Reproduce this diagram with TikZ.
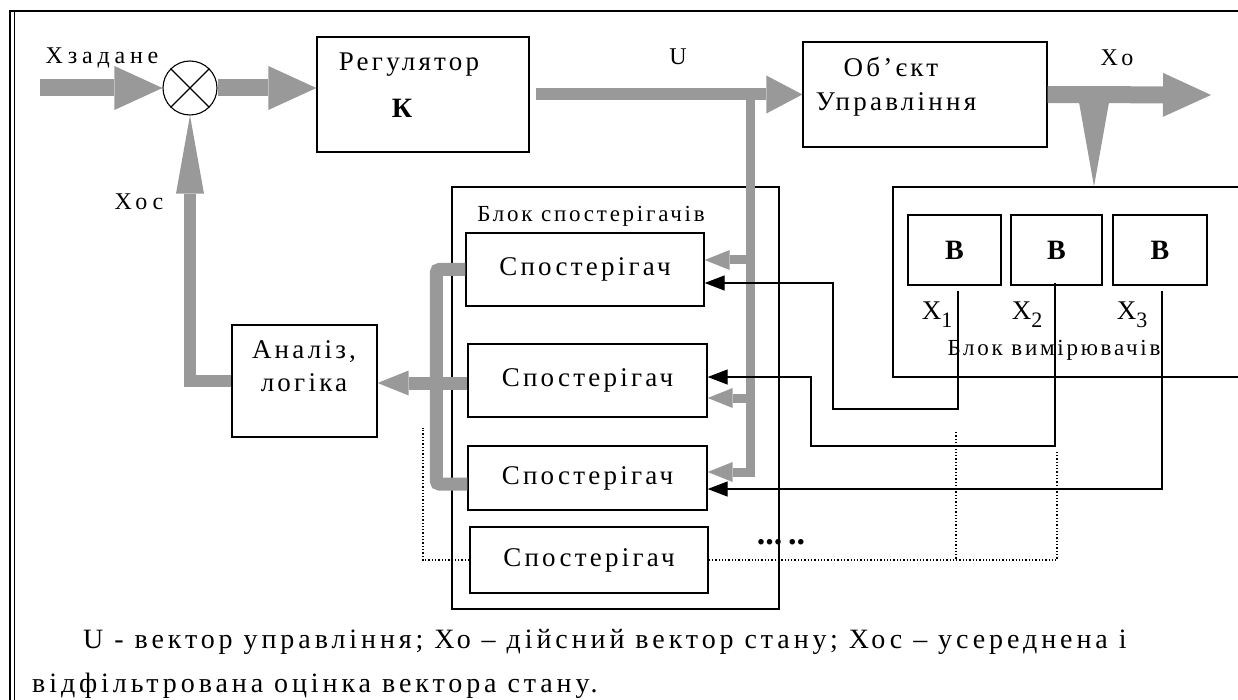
\documentclass[tikz,border=0pt]{standalone}
\usepackage{fontspec}
\setmainfont{Liberation Serif}
\newfontfamily\lblfont{Liberation Serif}[LetterSpace=20]
\newfontfamily\boxfont{Liberation Serif}[LetterSpace=12]
\newfontfamily\capfont{Liberation Serif}[LetterSpace=14]
\usetikzlibrary{positioning,arrows.meta}
\definecolor{bargray}{RGB}{153,153,153}

\begin{document}
\begin{tikzpicture}[
      x=1pt, y=-1pt,
      blk/.style={draw, line width=1.3pt, inner sep=0pt},
      boxtxt/.style={font=\boxfont\fontsize{27}{33}\selectfont, inner sep=0pt, align=center},
      boldtxt/.style={font=\bfseries\fontsize{28}{33}\selectfont, inner sep=0pt},
      lbl/.style={font=\lblfont\fontsize{24}{28}\selectfont, inner sep=0pt},
      smalltxt/.style={font=\boxfont\fontsize{23}{27}\selectfont, inner sep=0pt},
      captxt/.style={font=\capfont\fontsize{28}{32}\selectfont, inner sep=0pt, anchor=base west},
      bar/.style={draw=bargray, line width=17pt, -{Triangle[length=48pt,width=44pt,line width=0pt]}},
      ubar/.style={draw=bargray, line width=12pt, -{Triangle[length=36pt,width=38pt,line width=0pt]}},
      fb/.style={draw=bargray, line width=12pt, -{Triangle[length=78pt,width=28pt,line width=0pt]}},
      drop/.style={draw=bargray, line width=2pt, -{Triangle[length=84pt,width=30pt,line width=0pt]}},
      gbus/.style={draw=bargray, line width=9pt, -{Triangle[length=25pt,width=20pt,line width=0pt]}},
      gout/.style={draw=bargray, line width=13pt, rounded corners=3pt},
      gan/.style={draw=bargray, line width=13pt, -{Triangle[length=31pt,width=25pt,line width=0pt]}},
      sig/.style={draw, line width=1.3pt, -{Triangle[length=20pt,width=15pt]}},
      dots/.style={draw, line width=1.3pt, dotted}
    ]
    \useasboundingbox (0,0) rectangle (1238,700);
    \clip (0,0) rectangle (1238,700);
    % frame
    \draw[line width=2pt] (10,700) -- (10,11) -- (1238,11);
    \draw[line width=1pt] (14,700) -- (14,12);

    % ===== main loop (top) =====
    \coordinate (xin) at (40,88);
    \node[draw, circle, line width=1.1pt, minimum size=54pt, inner sep=0pt] (sum) at (190,88) {};
    \draw[line width=1.1pt] (sum.north west) -- (sum.south east) (sum.north east) -- (sum.south west);
    \node[lbl] (xzad) at (102,58) {Хзадане};
    \node[blk, minimum width=212pt, minimum height=115pt] (reg) at (423,94.5) {};
    \node[boxtxt] (regt) at (409,65) {Регулятор};
    \node[boldtxt] (regk) at (402,108) {К};
    \node[blk, minimum width=244pt, minimum height=105pt] (obj) at (925,94.5) {};
    \node[boxtxt] (objt) at (891,67) {Об’єкт};
    \node[boxtxt] (obju) at (896,104) {Управління};
    \node[lbl] (ulbl) at (678,57) {U};
    \node[lbl] (xolbl) at (1117,58) {Хо};
    \coordinate (xout) at (1211,95);
    \coordinate (obr) at (1094,95);
    \coordinate (ubr) at (750,94.5);

    \draw[bar] (xin) -- (sum.west);
    \draw[bar] (sum.east) -- (sum.east -| reg.west);
    \draw[ubar] ([xshift=6pt]reg.east) -- (obj.west);
    \draw[bar] (obj.east) -- (xout);

    % ===== measurement block =====
    \node[blk, minimum width=360pt, minimum height=190pt] (meas) at (1073,282) {};
    \node[blk, minimum width=93pt, minimum height=70pt, font=\bfseries\fontsize{28}{33}\selectfont] (b1) at (954.5,250) {В};
    \node[blk, minimum width=91pt, minimum height=70pt, font=\bfseries\fontsize{28}{33}\selectfont] (b2) at (1056.5,250) {В};
    \node[blk, minimum width=94pt, minimum height=70pt, font=\bfseries\fontsize{28}{33}\selectfont] (b3) at (1160,250) {В};
    \node[boxtxt] (x1) at (937,315) {X\raisebox{-8pt}{\fontsize{22}{22}\selectfont 1}};
    \node[boxtxt] (x2) at (1027,315) {X\raisebox{-8pt}{\fontsize{22}{22}\selectfont 2}};
    \node[boxtxt] (x3) at (1132,315) {X\raisebox{-8pt}{\fontsize{22}{22}\selectfont 3}};
    \node[smalltxt] (meast) at (1054,350) {Блок вимірювачів};
    \draw[drop] (obr) -- (obr |- meas.north);

    % ===== observer block =====
    \node[blk, minimum width=327pt, minimum height=422pt] (obs) at (615.5,398) {};
    \node[smalltxt] (obst) at (591,216) {Блок спостерігачів};
    \node[blk, boxtxt, minimum width=238pt, minimum height=73pt] (s1) at (585,269.5) {Спостерігач};
    \node[blk, boxtxt, minimum width=239pt, minimum height=73pt] (s2) at (587.5,380.5) {Спостерігач};
    \node[blk, boxtxt, minimum width=239pt, minimum height=64pt] (s3) at (587.5,478) {Спостерігач};
    \node[blk, boxtxt, minimum width=238pt, minimum height=66pt] (s4) at (589,560) {Спостерігач};

    % U -> observers
    \draw[gbus] (ubr) |- ([yshift=6pt]s3.east);
    \draw[gbus] ([yshift=9.5pt]s1.east -| ubr) -- ([yshift=9.5pt]s1.east);
    \draw[gbus] ([yshift=-17.5pt]s2.east -| ubr) -- ([yshift=-17.5pt]s2.east);

    % X1, X2, X3 -> observers
    \coordinate (j1) at (833,409);
    \coordinate (j2) at (811,446);
    \draw[sig] ([xshift=3.5pt,yshift=-5pt]b1.south) |- (j1) |- ([yshift=-13.5pt]s1.east);
    \draw[sig] ([xshift=-1.5pt,yshift=3pt]b2.south) |- (j2) |- ([yshift=3.5pt]s2.east);
    \draw[sig] ([xshift=2pt,yshift=-5pt]b3.south) |- ([yshift=-11pt]s3.east);

    % ===== analysis and feedback =====
    \node[blk, minimum width=145pt, minimum height=112pt] (an) at (304.5,381) {};
    \node[boxtxt] (ant) at (304,366) {Аналіз,\\логіка};
    \node[lbl] (xos) at (139,202) {Хос};
    \coordinate (s2o) at ([yshift=-2.5pt]s2.west);
    \draw[gout] (s1.west) -- +(-29,0) |- ([yshift=-6pt]s3.west);
    \draw[gan] (s2o) -- (an.east |- s2o);
    \draw[fb] (an.west) -| (sum.south);

    % further observers (dotted)
    \coordinate (j4) at (1057,452);
    \coordinate (j5) at (956,432);
    \coordinate (j6) at (423,428);
    \draw[dots] (s4.east) -| (j4);
    \draw[dots] (j5) -- (j5 |- s4.east);
    \draw[dots] (s4.west) -| (j6);
    \node[font=\bfseries\fontsize{34}{34}\selectfont, inner sep=0pt] (more) at (781,542) {...\,..};

    % caption
    \node[captxt] (cap1) at (83,648) {U - вектор управління; Хо – дійсний вектор стану; Хос – усереднена і};
    \node[captxt] (cap2) at (32,692) {відфільтрована оцінка вектора стану.};
    \end{tikzpicture}
\end{document}
